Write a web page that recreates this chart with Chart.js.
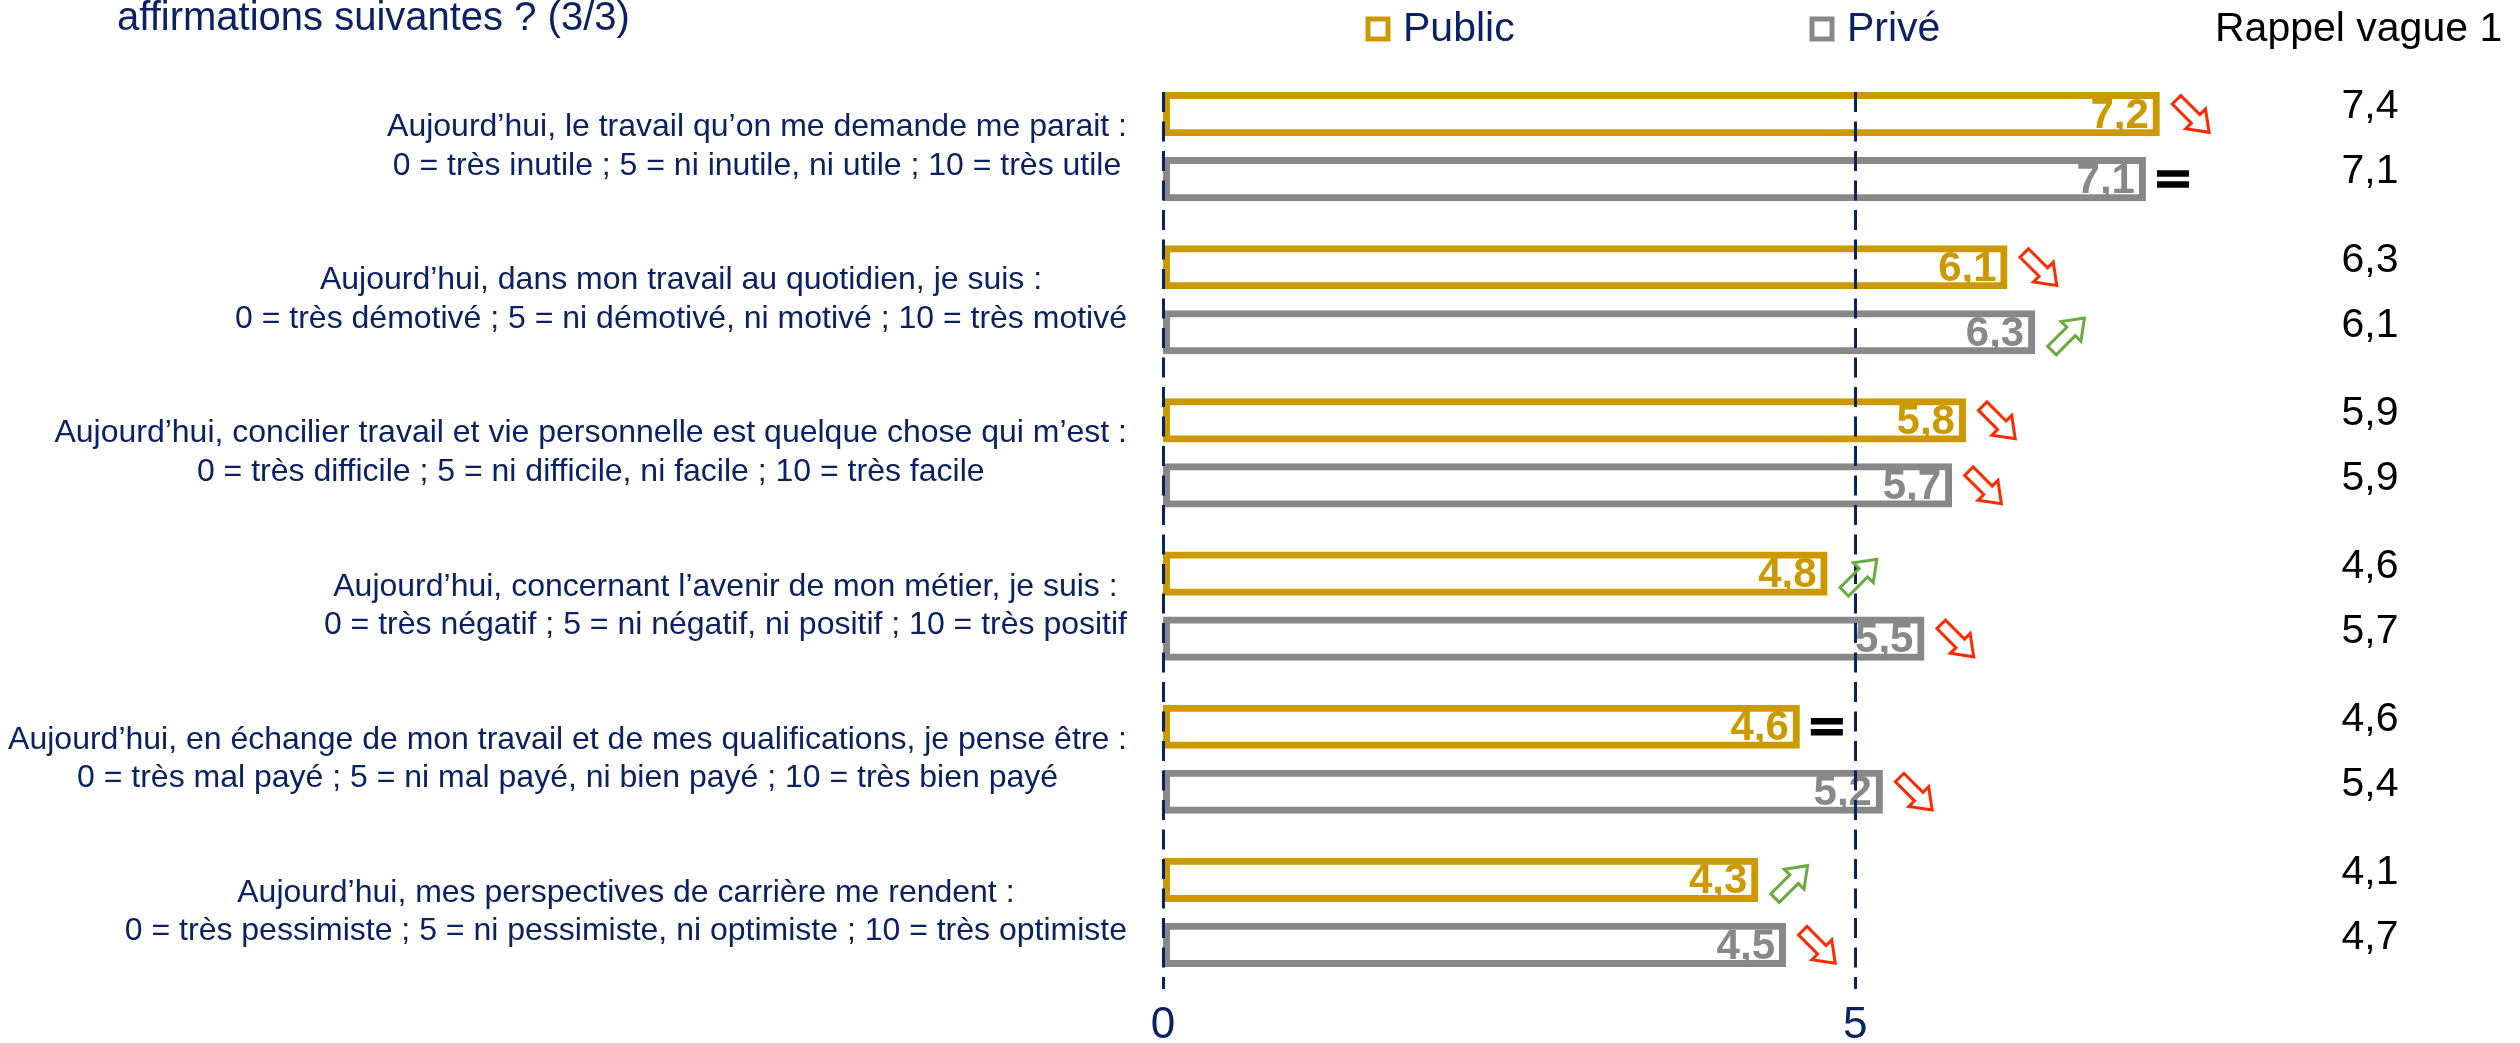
<!DOCTYPE html>
<html lang="fr">
<head>
<meta charset="utf-8">
<title>Affirmations suivantes (3/3)</title>
<script src="https://cdn.jsdelivr.net/npm/chart.js@4.4.1/dist/chart.umd.min.js"></script>
<style>
  html, body { margin: 0; padding: 0; background: #fff; }
  #wrap { width: 2520px; height: 1043px; }
</style>
</head>
<body>
<div id="wrap"><canvas id="scores" width="2520" height="1043"></canvas></div>
<script>
// questions, two lines each
const questions = [
    ['Aujourd’hui, le travail qu’on me demande me parait :', '0 = très inutile ; 5 = ni inutile, ni utile ; 10 = très utile'],
    ['Aujourd’hui, dans mon travail au quotidien, je suis :', '0 = très démotivé ; 5 = ni démotivé, ni motivé ; 10 = très motivé'],
    ['Aujourd’hui, concilier travail et vie personnelle est quelque chose qui m’est :', '0 = très difficile ; 5 = ni difficile, ni facile ; 10 = très facile'],
    ['Aujourd’hui, concernant l’avenir de mon métier, je suis :', '0 = très négatif ; 5 = ni négatif, ni positif ; 10 = très positif'],
    ['Aujourd’hui, en échange de mon travail et de mes qualifications, je pense être :', '0 = très mal payé ; 5 = ni mal payé, ni bien payé ; 10 = très bien payé'],
    ['Aujourd’hui, mes perspectives de carrière me rendent :', '0 = très pessimiste ; 5 = ni pessimiste, ni optimiste ; 10 = très optimiste']
];
const seriesNames = ['Public', 'Privé'];
const publicScores = [7.2, 6.1, 5.8, 4.8, 4.6, 4.3];
const priveScores = [7.1, 6.3, 5.7, 5.5, 5.2, 4.5];
// previous wave, used for the trend arrows
const rappelPublic = [7.4, 6.3, 5.9, 4.6, 4.6, 4.1];
const rappelPrive = [7.1, 6.1, 5.9, 5.7, 5.4, 4.7];
const xTickValues = [0, 5];
const rappelTitle = 'Rappel vague 1';
const titleText = 'affirmations suivantes ? (3/3)';

const NAVY = '#0a2263';
const GOLD = '#CC9900';
const GREY = '#888888';
const UP = '#6aab3f';
const DOWN = '#ff2a00';
const FONT = '"Liberation Sans", Arial, Helvetica, sans-serif';

const fmt = v => v.toFixed(1).replace('.', ',');

function drawArrow(ctx, cx, cy, up, color) {
    const L = 46, sw = 6, hw = 14, hl = 19;
    ctx.save();
    ctx.translate(cx, cy);
    ctx.rotate(up ? -Math.PI / 4 : Math.PI / 4);
    ctx.beginPath();
    ctx.moveTo(-L / 2, -sw);
    ctx.lineTo(L / 2 - hl, -sw);
    ctx.lineTo(L / 2 - hl, -hw);
    ctx.lineTo(L / 2, 0);
    ctx.lineTo(L / 2 - hl, hw);
    ctx.lineTo(L / 2 - hl, sw);
    ctx.lineTo(-L / 2, sw);
    ctx.closePath();
    ctx.strokeStyle = color;
    ctx.lineWidth = 3;
    ctx.lineJoin = 'miter';
    ctx.stroke();
    ctx.restore();
}

const decor = {
    id: 'decor',
    afterDatasetsDraw(chart, args, opts) {
        const ctx = chart.ctx;
        const xs = chart.scales.x;
        const ys = chart.scales.y;
        const area = chart.chartArea;
        const rappels = [rappelPublic, rappelPrive];

        ctx.save();

        // title (cut off at the top, as on the slide)
        ctx.font = '40px ' + FONT;
        ctx.fillStyle = NAVY;
        ctx.textAlign = 'left';
        ctx.textBaseline = 'alphabetic';
        ctx.fillText(titleText, opts.titleX, opts.titleY);

        // legend
        ctx.textBaseline = 'middle';
        chart.data.datasets.forEach((ds, d) => {
            const cx = opts.legendX[d];
            ctx.strokeStyle = ds.borderColor;
            ctx.lineWidth = 5;
            ctx.strokeRect(cx - 10, opts.legendY - 10, 20, 20);
            ctx.font = '41px ' + FONT;
            ctx.fillStyle = NAVY;
            ctx.fillText(ds.label, cx + 25, opts.legendY + 1);
        });
        ctx.fillStyle = '#000';
        ctx.fillText(rappelTitle, opts.rappelTitleX, opts.legendY + 1);

        // question labels: lines centred, block right-aligned
        ctx.font = '32px ' + FONT;
        ctx.fillStyle = NAVY;
        ctx.textAlign = 'center';
        const labelRight = xs.getPixelForValue(0) - 36;
        questions.forEach((lines, i) => {
            const cy = ys.getPixelForValue(i);
            const w = Math.max(...lines.map(l => ctx.measureText(l).width));
            const cx = labelRight - w / 2;
            lines.forEach((l, k) => {
                ctx.fillText(l, cx, cy + (k - (lines.length - 1) / 2) * 38.5);
            });
        });

        // value labels inside the bars
        ctx.font = 'bold 42px ' + FONT;
        ctx.textAlign = 'right';
        chart.data.datasets.forEach((ds, d) => {
            chart.getDatasetMeta(d).data.forEach((bar, i) => {
                ctx.fillStyle = ds.borderColor;
                ctx.fillText(fmt(ds.data[i]), bar.x - 11, bar.y + 2);
            });
        });

        // dashed reference lines at 0 and 5
        const first = chart.getDatasetMeta(0).data[0];
        const top = first.y - first.height / 2;
        ctx.strokeStyle = NAVY;
        ctx.lineWidth = 3;
        ctx.setLineDash([20, 9.5]);
        xTickValues.forEach(v => {
            const px = Math.round(xs.getPixelForValue(v)) + 0.5;
            ctx.beginPath();
            ctx.moveTo(px, top);
            ctx.lineTo(px, area.bottom);
            ctx.stroke();
        });
        ctx.setLineDash([]);

        // trend vs previous wave + previous wave column
        chart.data.datasets.forEach((ds, d) => {
            chart.getDatasetMeta(d).data.forEach((bar, i) => {
                const now = ds.data[i];
                const before = rappels[d][i];
                if (now === before) {
                    ctx.strokeStyle = '#000';
                    ctx.lineWidth = 6.5;
                    ctx.lineCap = 'butt';
                    [-5.5, 5.5].forEach(off => {
                        ctx.beginPath();
                        ctx.moveTo(bar.x + 11, bar.y + off);
                        ctx.lineTo(bar.x + 43, bar.y + off);
                        ctx.stroke();
                    });
                } else {
                    drawArrow(ctx, bar.x + 33, bar.y + 2, now > before, now > before ? UP : DOWN);
                }
                ctx.font = '41px ' + FONT;
                ctx.fillStyle = '#000';
                ctx.textAlign = 'center';
                ctx.fillText(fmt(before), opts.rappelX, bar.y - 7);
            });
        });

        ctx.restore();
    }
};

new Chart(document.getElementById('scores'), {
    type: 'bar',
    data: {
        labels: questions,
        datasets: [
            {
                label: seriesNames[0],
                data: publicScores,
                borderColor: GOLD,
                backgroundColor: 'rgba(255,255,255,0)',
                borderWidth: 7,
                borderSkipped: false
            },
            {
                label: seriesNames[1],
                data: priveScores,
                borderColor: GREY,
                backgroundColor: 'rgba(255,255,255,0)',
                borderWidth: 7,
                borderSkipped: false
            }
        ]
    },
    options: {
        indexAxis: 'y',
        responsive: false,
        devicePixelRatio: 1,
        animation: false,
        events: [],
        layout: { padding: { left: 1163, right: 111, top: 70, bottom: 0 } },
        datasets: { bar: { categoryPercentage: 0.849, barPercentage: 0.68 } },
        scales: {
            x: {
                min: 0,
                max: 9,
                afterBuildTicks: s => { s.ticks = xTickValues.map(v => ({ value: v })); },
                afterFit: s => { s.height = 54; },
                grid: { display: false },
                border: { display: false },
                ticks: { padding: 2, color: NAVY, font: { family: FONT, size: 44 } }
            },
            y: { display: false }
        },
        plugins: {
            legend: { display: false },
            tooltip: { enabled: false },
            decor: {
                titleX: 117,
                titleY: 30,
                legendX: [1378, 1822],
                legendY: 29,
                rappelTitleX: 2215,
                rappelX: 2370
            }
        }
    },
    plugins: [decor]
});
</script>
</body>
</html>
